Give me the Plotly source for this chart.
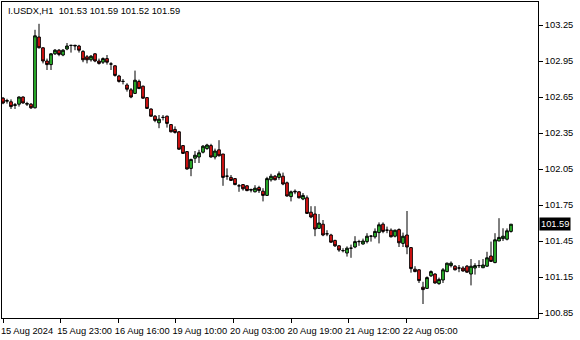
import plotly.graph_objects as go

symbol_title = "I.USDX,H1  101.53 101.59 101.52 101.59"

opens = [102.64, 102.615, 102.61, 102.58, 102.59, 102.65, 102.59, 102.59, 102.56, 103.15,
         103.06, 102.95, 102.92, 103.01, 103.04, 103.00, 103.05, 103.08, 103.075, 103.075,
         103.03, 102.985, 102.96, 103.01, 102.95, 102.94, 102.97, 102.925, 102.91, 102.825,
         102.78, 102.75, 102.71, 102.68, 102.78, 102.74, 102.645, 102.55, 102.49, 102.435,
         102.48, 102.49, 102.42, 102.38, 102.36, 102.245, 102.195, 102.055, 102.14, 102.15,
         102.19, 102.22, 102.245, 102.15, 102.21, 102.175, 101.99, 101.98, 101.97, 101.91,
         101.92, 101.91, 101.88, 101.86, 101.895, 101.865, 101.83, 101.96, 101.99, 101.98,
         101.99, 101.935, 101.82, 101.865, 101.86, 101.80, 101.81, 101.69, 101.675, 101.555,
         101.59, 101.51, 101.50, 101.455, 101.41, 101.37, 101.35, 101.39, 101.40, 101.445,
         101.425, 101.445, 101.49, 101.485, 101.52, 101.59, 101.54, 101.54, 101.49, 101.545,
         101.43, 101.50, 101.395, 101.215, 101.21, 101.065, 101.055, 101.16, 101.175, 101.095,
         101.125, 101.195, 101.245, 101.24, 101.225, 101.225, 101.24, 101.175, 101.225, 101.245,
         101.227, 101.24, 101.325, 101.27, 101.45, 101.47, 101.465, 101.53]
highs = [102.65, 102.635, 102.63, 102.60, 102.655, 102.655, 102.61, 102.60, 103.21, 103.26,
         103.065, 102.97, 103.015, 103.05, 103.05, 103.05, 103.10, 103.085, 103.085, 103.085,
         103.04, 103.00, 103.00, 103.015, 102.97, 102.98, 103.00, 102.94, 102.915, 102.835,
         102.80, 102.765, 102.725, 102.87, 102.795, 102.745, 102.65, 102.555, 102.50, 102.50,
         102.50, 102.495, 102.425, 102.405, 102.365, 102.25, 102.20, 102.135, 102.20, 102.21,
         102.25, 102.26, 102.26, 102.22, 102.29, 102.175, 102.055, 102.00, 101.975, 101.925,
         101.925, 101.915, 101.885, 101.915, 101.91, 101.89, 101.985, 102.01, 102.00, 102.03,
         102.02, 101.945, 101.87, 101.88, 101.865, 101.85, 101.83, 101.74, 101.74, 101.675,
         101.625, 101.54, 101.51, 101.46, 101.415, 101.39, 101.405, 101.42, 101.49, 101.46,
         101.47, 101.515, 101.50, 101.555, 101.605, 101.605, 101.57, 101.555, 101.545, 101.555,
         101.52, 101.70, 101.40, 101.24, 101.215, 101.11, 101.155, 101.205, 101.18, 101.145,
         101.225, 101.27, 101.28, 101.25, 101.25, 101.24, 101.25, 101.30, 101.265, 101.29,
         101.30, 101.36, 101.445, 101.515, 101.64, 101.556, 101.555, 101.59]
lows = [102.59, 102.595, 102.55, 102.55, 102.57, 102.595, 102.575, 102.55, 102.555, 103.055,
        102.93, 102.875, 102.875, 103.00, 102.99, 102.99, 103.04, 103.02, 103.04, 103.02,
        102.94, 102.93, 102.945, 102.94, 102.92, 102.925, 102.92, 102.875, 102.82, 102.77,
        102.755, 102.695, 102.64, 102.675, 102.72, 102.635, 102.55, 102.485, 102.44, 102.39,
        102.455, 102.395, 102.355, 102.345, 102.21, 102.175, 102.045, 101.99, 102.10, 102.10,
        102.18, 102.21, 102.145, 102.13, 102.155, 101.91, 101.96, 101.95, 101.915, 101.86,
        101.87, 101.865, 101.855, 101.855, 101.85, 101.78, 101.825, 101.945, 101.955, 101.96,
        101.915, 101.82, 101.78, 101.84, 101.805, 101.79, 101.675, 101.64, 101.49, 101.55,
        101.49, 101.49, 101.435, 101.40, 101.36, 101.355, 101.32, 101.31, 101.39, 101.41,
        101.42, 101.43, 101.445, 101.47, 101.43, 101.515, 101.515, 101.48, 101.48, 101.40,
        101.40, 101.34, 101.186, 101.19, 101.10, 100.925, 101.05, 101.15, 101.095, 101.085,
        101.10, 101.19, 101.23, 101.205, 101.19, 101.195, 101.185, 101.08, 101.17, 101.225,
        101.225, 101.235, 101.275, 101.265, 101.45, 101.45, 101.455, 101.52]
closes = [102.60, 102.62, 102.57, 102.585, 102.65, 102.60, 102.595, 102.56, 103.16, 103.06,
          102.95, 102.92, 103.01, 103.04, 103.005, 103.04, 103.075, 103.08, 103.08, 103.04,
          102.96, 102.96, 102.99, 102.95, 102.93, 102.97, 102.94, 102.925, 102.83, 102.78,
          102.78, 102.715, 102.65, 102.79, 102.72, 102.64, 102.555, 102.49, 102.455, 102.465,
          102.48, 102.43, 102.36, 102.355, 102.215, 102.18, 102.05, 102.13, 102.165, 102.185,
          102.24, 102.25, 102.15, 102.20, 102.16, 101.98, 101.99, 101.955, 101.92, 101.91,
          101.885, 101.87, 101.875, 101.89, 101.87, 101.83, 101.97, 101.99, 101.96, 102.01,
          101.925, 101.825, 101.86, 101.86, 101.81, 101.83, 101.68, 101.65, 101.55, 101.60,
          101.50, 101.51, 101.44, 101.41, 101.375, 101.37, 101.39, 101.39, 101.445, 101.445,
          101.45, 101.49, 101.49, 101.53, 101.585, 101.53, 101.54, 101.485, 101.54, 101.435,
          101.49, 101.40, 101.22, 101.195, 101.12, 101.045, 101.145, 101.195, 101.10, 101.13,
          101.21, 101.265, 101.265, 101.21, 101.225, 101.20, 101.19, 101.24, 101.245, 101.245,
          101.25, 101.31, 101.28, 101.46, 101.48, 101.49, 101.535, 101.59]

time_labels = ["15 Aug 2024", "15 Aug 23:00", "16 Aug 16:00", "19 Aug 10:00",
               "20 Aug 03:00", "20 Aug 19:00", "21 Aug 12:00", "22 Aug 05:00"]
price_ticks = [100.85, 101.15, 101.45, 101.75, 102.05, 102.35, 102.65, 102.95, 103.25]

bars = list(range(len(opens)))
label_step = 14.4
label_pos = [i * label_step for i in range(len(time_labels))]

FONT = "Liberation Sans, Arial, sans-serif"
FS = 9.3

fig = go.Figure()
fig.add_trace(go.Candlestick(
    x=bars, open=opens, high=highs, low=lows, close=closes,
    increasing=dict(fillcolor="#2ec42e", line=dict(color="black", width=1)),
    decreasing=dict(fillcolor="#f01414", line=dict(color="black", width=1)),
    whiskerwidth=0, showlegend=False, hoverinfo="skip",
))

fig.update_layout(
    width=580, height=340,
    margin=dict(l=2, r=42, t=2, b=22),
    paper_bgcolor="white", plot_bgcolor="white",
    font=dict(family=FONT, size=FS, color="black"),
    showlegend=False,
    boxgap=0.05,
    xaxis=dict(
        range=[-0.25, 133.75], rangeslider=dict(visible=False),
        showgrid=False, zeroline=False,
        showline=True, linecolor="black", linewidth=1, mirror=True,
        tickmode="array", tickvals=label_pos, ticktext=time_labels,
        ticks="outside", ticklen=4, tickcolor="black", tickwidth=1,
        ticklabelshift=24, ticklabelstandoff=0,
        tickfont=dict(family=FONT, size=FS, color="black"),
    ),
    yaxis=dict(
        range=[100.8083, 103.4417], side="right",
        showgrid=False, zeroline=False,
        showline=True, linecolor="black", linewidth=1, mirror=True,
        tickmode="array", tickvals=price_ticks,
        ticktext=[f"{v:.2f}" for v in price_ticks],
        ticks="outside", ticklen=4, tickcolor="black", tickwidth=1,
        tickfont=dict(family=FONT, size=FS, color="black"),
    ),
)

fig.add_annotation(
    xref="paper", yref="paper", x=0, y=1, xanchor="left", yanchor="top",
    xshift=4, yshift=-2, text=symbol_title, showarrow=False,
    font=dict(family=FONT, size=FS, color="black"),
)
fig.add_annotation(
    xref="paper", yref="y", x=1, y=closes[-1], xanchor="left", yanchor="middle",
    text=f"{closes[-1]:.2f}", showarrow=False, bgcolor="black",
    font=dict(family=FONT, size=FS, color="white"), borderpad=1, xshift=1,
)

fig.write_html("out.html")
